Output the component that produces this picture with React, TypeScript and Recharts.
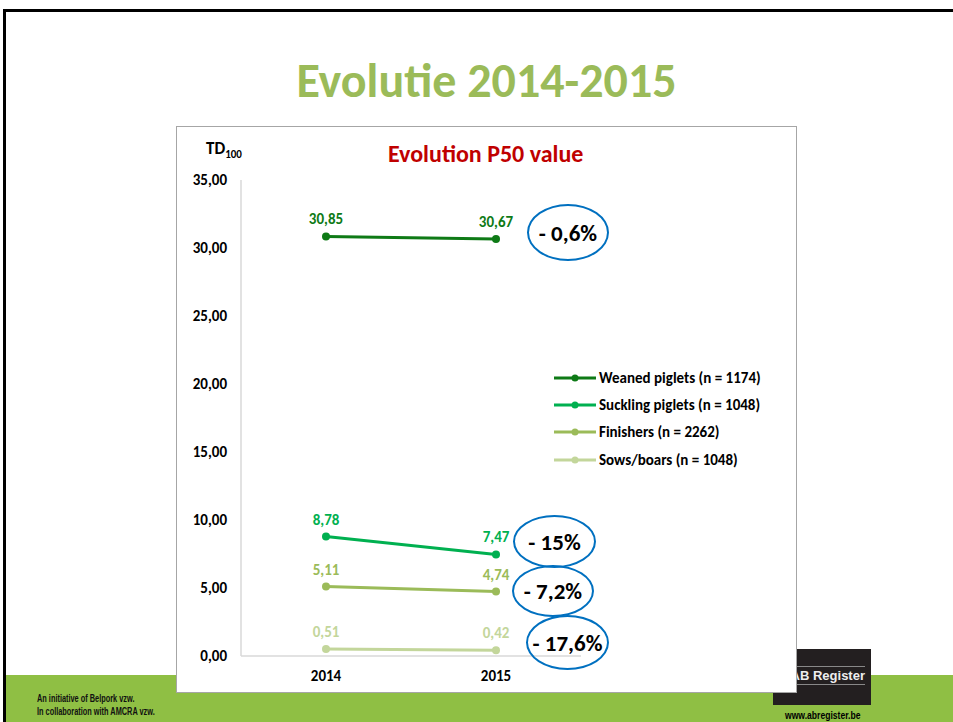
import React from 'react';
import { LineChart, Line, XAxis, YAxis, Legend, LabelList } from 'recharts';

const years = ['2014', '2015'];
const weaned = [30.85, 30.67];
const suckling = [8.78, 7.47];
const finishers = [5.11, 4.74];
const sows = [0.51, 0.42];
const yTicks = [0, 5, 10, 15, 20, 25, 30, 35];
const changes = ['- 0,6%', '- 15%', '- 7,2%', '- 17,6%'];

const series = [
  { key: 'weaned', name: 'Weaned piglets (n = 1174)', color: '#0e7a16', values: weaned },
  { key: 'suckling', name: 'Suckling piglets (n = 1048)', color: '#00b050', values: suckling },
  { key: 'finishers', name: 'Finishers (n = 2262)', color: '#9bbb59', values: finishers },
  { key: 'sows', name: 'Sows/boars (n = 1048)', color: '#c3d69b', values: sows },
];

const data = years.map((year, i) => {
  const row: any = { year };
  series.forEach((s) => (row[s.key] = s.values[i]));
  return row;
});

// ellipse boxes for the change annotations (page coords)
const bubbles = [
  { left: 527, top: 204, w: 82, h: 57 },
  { left: 513, top: 515, w: 83, h: 53 },
  { left: 512, top: 565, w: 82, h: 52 },
  { left: 526, top: 615, w: 83, h: 55 },
];

const font = "Carlito, Calibri, Lato, 'Noto Sans', sans-serif";
const narrow = "'Liberation Sans Narrow', 'Liberation Sans', sans-serif";
const fmt = (v: number) => v.toFixed(2).replace('.', ',');

const renderLegend = () => (
  <div>
    {series.map((s) => (
      <div key={s.key} style={{ display: 'flex', alignItems: 'center', height: 27.3 }}>
        <svg width={45} height={10}>
          <line x1={0} y1={5} x2={42} y2={5} stroke={s.color} strokeWidth={3} />
          <circle cx={21} cy={5} r={3.5} fill={s.color} />
        </svg>
        <span style={{ fontSize: 15, fontWeight: 700, color: '#000', fontFamily: font }}>{s.name}</span>
      </div>
    ))}
  </div>
);

export default function App() {
  return (
    <div style={{ position: 'absolute', left: 0, top: 0, width: 953, height: 722, overflow: 'hidden', background: '#fff', fontFamily: font }}>
      <div style={{ position: 'absolute', left: 3, top: 9, right: 0, height: 3, background: '#000' }} />
      <div style={{ position: 'absolute', left: 3, top: 9, width: 3, bottom: 0, background: '#000' }} />
      <div style={{ position: 'absolute', left: 6, top: 675, right: 0, bottom: 0, background: '#8fbf44' }} />

      <div style={{ position: 'absolute', left: 10, width: 953, top: 51, textAlign: 'center', fontSize: 48, lineHeight: '60px', fontWeight: 700, color: '#9bbb59' }}>
        Evolutie 2014-2015
      </div>

      {/* logo */}
      <div style={{ position: 'absolute', left: 773, top: 649, width: 98, height: 56, background: '#231f20' }}>
        <div style={{ position: 'absolute', left: 0, right: 6, top: 17, height: 1, background: '#888' }} />
        <div style={{ position: 'absolute', left: 0, right: 6, top: 35, height: 1, background: '#888' }} />
        <div style={{ position: 'absolute', right: 6, top: 19, fontSize: 13, fontWeight: 700, color: '#eee', fontFamily: "'Liberation Sans', sans-serif" }}>
          AB Register
        </div>
      </div>
      <div style={{ position: 'absolute', left: 785, top: 709, fontSize: 11, fontWeight: 700, color: '#000', fontFamily: narrow, transform: 'scaleX(0.78)', transformOrigin: 'left top', whiteSpace: 'nowrap' }}>
        www.abregister.be
      </div>

      <div style={{ position: 'absolute', left: 37, top: 692, fontSize: 11.5, lineHeight: '13px', fontWeight: 700, color: '#111', fontFamily: narrow, transform: 'scaleX(0.64)', transformOrigin: 'left top', whiteSpace: 'nowrap' }}>
        <div>An initiative of Belpork vzw.</div>
        <div>In collaboration with AMCRA vzw.</div>
      </div>

      {/* chart box */}
      <div style={{ position: 'absolute', left: 176, top: 126, width: 621, height: 567, boxSizing: 'border-box', border: '1px solid #a6a6a6', background: '#fff' }}>
        <div style={{ position: 'absolute', left: 29, top: 11, fontSize: 17, fontWeight: 700, color: '#000', whiteSpace: 'nowrap' }}>
          TD<sub style={{ fontSize: 11 }}>100</sub>
        </div>
        <div style={{ position: 'absolute', left: 211, top: 12, fontSize: 24, fontWeight: 700, color: '#c00000', whiteSpace: 'nowrap' }}>
          Evolution P50 value
        </div>
        <LineChart width={619} height={565} data={data} margin={{ top: 53, right: 215, bottom: 6, left: 0 }}>
          <XAxis
            dataKey="year"
            padding={{ left: 85, right: 85 }}
            axisLine={{ stroke: '#d9d9d9', strokeWidth: 1.5 }}
            tickLine={false}
            tickMargin={8}
            tick={{ fill: '#000', fontSize: 15, fontWeight: 700, fontFamily: font }}
          />
          <YAxis
            width={64}
            domain={[0, 35]}
            ticks={yTicks}
            tickFormatter={fmt}
            axisLine={{ stroke: '#d9d9d9', strokeWidth: 1.5 }}
            tickLine={false}
            tickMargin={8}
            tick={{ fill: '#000', fontSize: 15, fontWeight: 700, fontFamily: font }}
          />
          <Legend
            layout="horizontal"
            align="center"
            verticalAlign="middle"
            content={renderLegend}
            wrapperStyle={{ left: 377, top: 237, width: 240 }}
          />
          {series.map((s) => (
            <Line
              key={s.key}
              dataKey={s.key}
              name={s.name}
              stroke={s.color}
              strokeWidth={3}
              dot={{ r: 4, fill: s.color, stroke: s.color, strokeWidth: 0 }}
              isAnimationActive={false}
            >
              <LabelList
                dataKey={s.key}
                position="top"
                offset={12}
                formatter={(v: any) => fmt(Number(v))}
                style={{ fill: s.color, fontSize: 15, fontWeight: 700, fontFamily: font }}
              />
            </Line>
          ))}
        </LineChart>
      </div>

      {bubbles.map((b, i) => (
        <div
          key={i}
          style={{
            position: 'absolute',
            left: b.left,
            top: b.top,
            width: b.w,
            height: b.h,
            boxSizing: 'border-box',
            border: '2.5px solid #0070c0',
            borderRadius: '50%',
            display: 'flex',
            alignItems: 'center',
            justifyContent: 'center',
            fontSize: 23,
            fontWeight: 700,
            color: '#000',
            whiteSpace: 'nowrap',
          }}
        >
          {changes[i]}
        </div>
      ))}
    </div>
  );
}
